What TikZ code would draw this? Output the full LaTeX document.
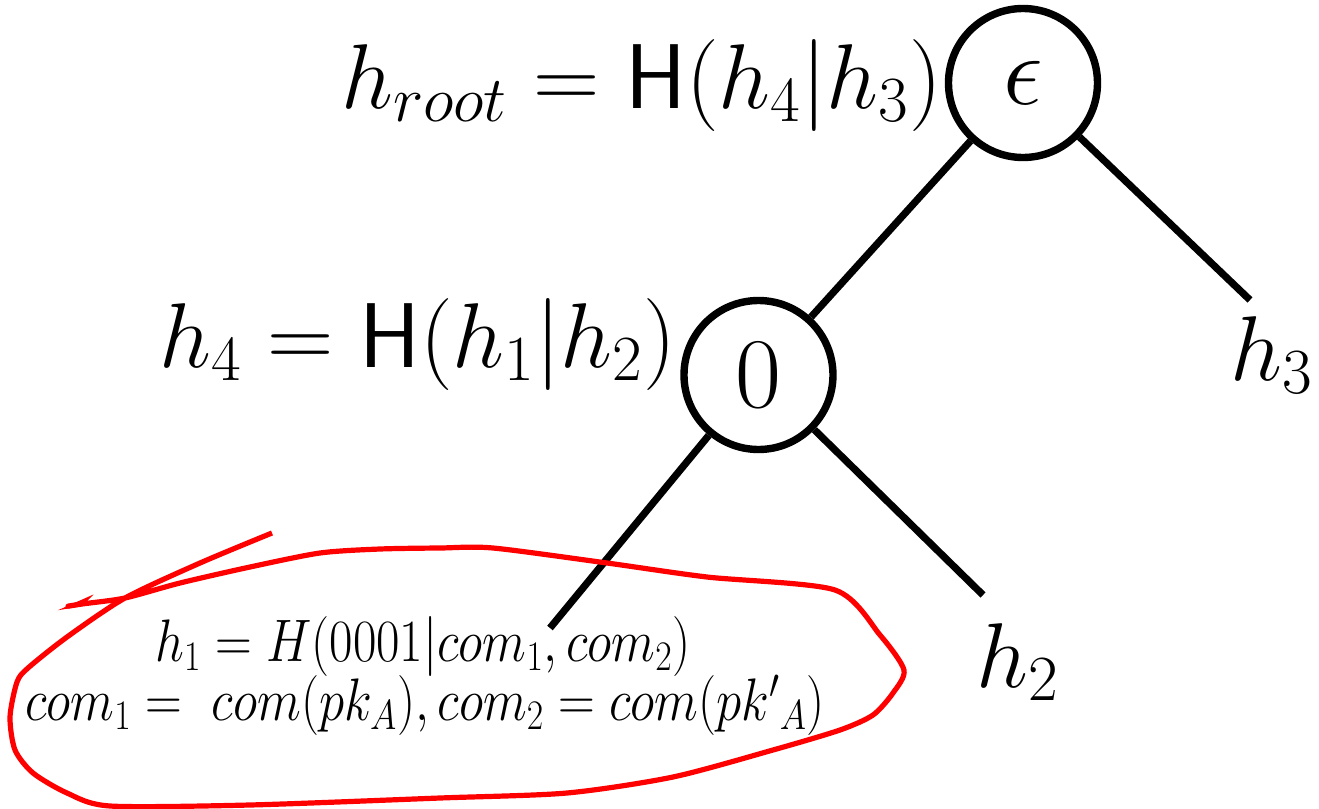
\RequirePackage{fix-cm}
\documentclass[tikz,border=0pt]{standalone}
\usepackage{amsmath}
\usepackage{graphicx}
\usetikzlibrary{arrows.meta}
\tikzset{
  mt/vertex/.style={draw, circle, line width=3.7pt, inner sep=0pt, minimum size=74.5pt, font=\fontsize{50}{56}\selectfont},
  mt/edge/.style={line width=3.6pt},
  mt/lbl/.style={inner sep=0pt, font=\fontsize{46}{52}\selectfont},
  mt/note/.style={inner sep=0pt, font=\fontsize{30}{34}\selectfont},
  mt/loop/.style={draw=red, line width=2.6pt, line join=round, -{Stealth[harpoon, swap, length=14pt, width=7pt]}}
}

\begin{document}
\begin{tikzpicture}[x=0.5pt, y=-0.5pt]
  \useasboundingbox (0,0) rectangle (1319,809);

  % tree
  \node[mt/vertex] (root) at (1023,83) {$\epsilon$};
  \node[mt/vertex] (n0) at (758.5,375) {$0$};
  \coordinate (e1) at (550,628);
  \coordinate (e2) at (983,595);
  \coordinate (e3) at (1250,300);
  \draw[mt/edge] (root) -- (n0);
  \draw[mt/edge] (root) -- (e3);
  \draw[mt/edge] (n0) -- (e1);
  \draw[mt/edge] (n0) -- (e2);

  % hash labels
  \node[mt/lbl, anchor=base east] (hroot) at (942,108) {$h_{root} = \mathsf{H}(h_4|h_3)$};
  \node[mt/lbl, anchor=base east] (hfour) at (676,367) {$h_4 = \mathsf{H}(h_1|h_2)$};
  \node[mt/lbl, anchor=base west] (h3) at (1230,380) {$h_3$};
  \node[mt/lbl, anchor=base west] (h2) at (976,687) {$h_2$};

  % leaf h1
  \node[mt/note, anchor=base] (hone) at (423,661) {\scalebox{0.85}[1]{$h_1 = H(0001|com_1, com_2)$}};
  \node[mt/note, anchor=base] (hcom) at (425,720) {\scalebox{0.85}[1]{$com_1 =\ com(pk_A), com_2 = com(pk'{}_A)$}};

  % hand drawn loop
  \draw[mt/loop] plot[smooth, tension=0.45] coordinates {
    (272,533) (200,563) (125,598) (67,637) (28,668) (17,682) (10,717)
    (15,750) (33,773) (67,793) (110,806) (250,805) (440,798) (567,793)
    (673,777) (773,750) (840,730) (873,715) (893,693) (904,670)
    (880,635) (835,590) (707,577) (607,563) (493,548) (440,548) (380,549)
    (320,553) (250,567) (180,583) (125,598) (82,604) (57,608)};
\end{tikzpicture}
\end{document}
